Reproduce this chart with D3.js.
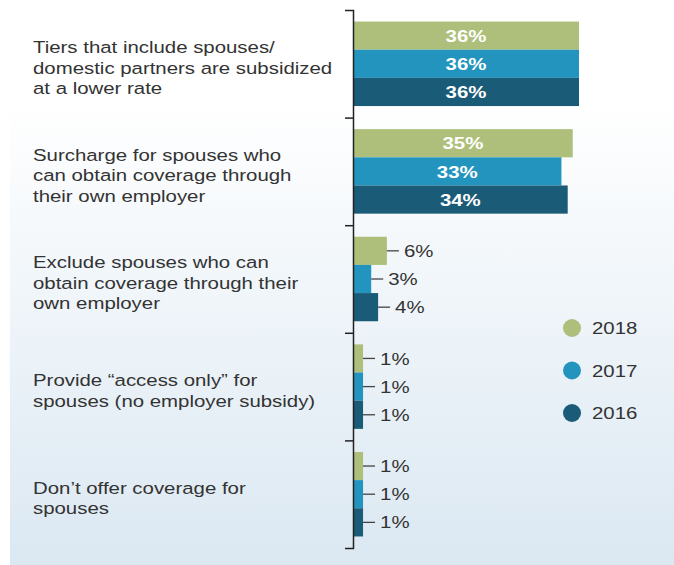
<!DOCTYPE html>
<html>
<head>
<meta charset="utf-8">
<script src="https://cdn.jsdelivr.net/npm/d3@7"></script>
<style>
  body { margin: 0; background: #fff; }
  svg { display: block; font-family: "Liberation Sans", Arial, sans-serif; }
</style>
</head>
<body>
<script>
// data
const categories = [
  ['Tiers that include spouses/', 'domestic partners are subsidized', 'at a lower rate'],
  ['Surcharge for spouses who', 'can obtain coverage through', 'their own employer'],
  ['Exclude spouses who can', 'obtain coverage through their', 'own employer'],
  ['Provide \u201Caccess only\u201D for', 'spouses (no employer subsidy)'],
  ['Don\u2019t offer coverage for', 'spouses']
]
const years = ['2018', '2017', '2016']
const values2018 = [36, 35, 5.4, 1.6, 1.6]
const values2017 = [36, 33.2, 2.9, 1.6, 1.6]
const values2016 = [36, 34.2, 4.0, 1.6, 1.6]
const labels2018 = ['36%', '35%', '6%', '1%', '1%']
const labels2017 = ['36%', '33%', '3%', '1%', '1%']
const labels2016 = ['36%', '34%', '4%', '1%', '1%']

const colors = { '2018': '#adbf7a', '2017': '#2394bd', '2016': '#1a5b77' }
const series = { '2018': values2018, '2017': values2017, '2016': values2016 }
const seriesLabels = { '2018': labels2018, '2017': labels2017, '2016': labels2016 }

const w = 674
const h = 565
const stretch = 1.2   // the original type is set a bit wide

const svg = d3.select('body')
  .append('svg')
  .attr('width', w)
  .attr('height', h)

// background panel, white fading into pale blue
const grad = svg.append('defs')
  .append('linearGradient')
  .attr('id', 'bg')
  .attr('x1', 0).attr('y1', 0).attr('x2', 0).attr('y2', 1)
grad.append('stop').attr('offset', '0%').attr('stop-color', '#ffffff')
grad.append('stop').attr('offset', '18%').attr('stop-color', '#ffffff')
grad.append('stop').attr('offset', '100%').attr('stop-color', '#dbe8f2')

svg.append('rect')
  .attr('x', 10)
  .attr('y', 0)
  .attr('width', w - 10)
  .attr('height', h)
  .attr('fill', 'url(#bg)')

const idx = d3.range(categories.length)

const yScale = d3.scaleBand()
  .domain(idx)
  .range([10, 548])
  .paddingInner(0)

const yInner = d3.scaleBand()
  .domain(years)
  .range([0, yScale.bandwidth()])
  .paddingInner(0)
  .paddingOuter(0.41)

const xScale = d3.scaleLinear()
  .domain([0, 36])
  .range([353, 579])

const place = (x, y) => 'translate(' + x + ',' + y + ') scale(' + stretch + ',1)'

// bars
const groups = svg.selectAll('.group')
  .data(idx)
  .enter()
  .append('g')
  .attr('class', 'group')
  .attr('transform', (i) => 'translate(0,' + yScale(i) + ')')

years.forEach(year => {
  const mid = yInner(year) + yInner.bandwidth() / 2

  groups.append('rect')
    .attr('x', xScale(0))
    .attr('y', yInner(year))
    .attr('width', (i) => xScale(series[year][i]) - xScale(0))
    .attr('height', yInner.bandwidth())
    .attr('fill', colors[year])

  // labels inside the long bars
  groups.filter((i) => series[year][i] >= 10)
    .append('text')
    .attr('transform', (i) => place((xScale(0) + xScale(series[year][i])) / 2, mid))
    .attr('dy', '0.36em')
    .attr('text-anchor', 'middle')
    .attr('fill', '#fff')
    .attr('font-size', 17)
    .attr('font-weight', 'bold')
    .text((i) => seriesLabels[year][i])

  // leader line + label for the short ones
  const small = groups.filter((i) => series[year][i] < 10)
  small.append('line')
    .attr('x1', (i) => xScale(series[year][i]))
    .attr('x2', (i) => xScale(series[year][i]) + 12)
    .attr('y1', mid)
    .attr('y2', mid)
    .attr('stroke', '#444')
    .attr('stroke-width', 1.3)
  small.append('text')
    .attr('transform', (i) => place(xScale(series[year][i]) + 17, mid))
    .attr('dy', '0.36em')
    .attr('fill', '#333')
    .attr('font-size', 17)
    .text((i) => seriesLabels[year][i])
})

// bracket axis
const yAxisScale = d3.scaleLinear()
  .domain([0, categories.length])
  .range([10, 548])

const yAxis = d3.axisLeft(yAxisScale)
  .tickValues(d3.range(1, categories.length))
  .tickSize(8)
  .tickSizeOuter(8)
  .tickFormat('')

svg.append('g')
  .attr('class', 'y-axis')
  .attr('transform', 'translate(' + xScale(0) + ',0)')
  .call(yAxis)
  .call(g => g.selectAll('path, line').attr('stroke', '#222').attr('stroke-width', 1.5))

// category labels
const lineH = 20.5
svg.selectAll('.cat')
  .data(idx)
  .enter()
  .append('text')
  .attr('class', 'cat')
  .attr('transform', place(33, 0))
  .attr('fill', '#333')
  .attr('font-size', 17)
  .each(function (i) {
    const lines = categories[i]
    const cy = yScale(i) + yScale.bandwidth() / 2 + 4
    const top = cy - (lines.length - 1) * lineH / 2
    d3.select(this).selectAll('tspan')
      .data(lines)
      .enter()
      .append('tspan')
      .attr('x', 0)
      .attr('y', (d, k) => top + k * lineH)
      .attr('dy', '0.35em')
      .text(d => d)
  })

// legend
const legendY = d3.scalePoint()
  .domain(years)
  .range([328, 413])

const legend = svg.selectAll('.legend')
  .data(years)
  .enter()
  .append('g')
  .attr('class', 'legend')
  .attr('transform', (d) => 'translate(572,' + legendY(d) + ')')

legend.append('circle')
  .attr('r', 9)
  .attr('fill', (d) => colors[d])

legend.append('text')
  .attr('transform', place(20, 0))
  .attr('dy', '0.36em')
  .attr('fill', '#333')
  .attr('font-size', 17)
  .text((d) => d)
</script>
</body>
</html>
